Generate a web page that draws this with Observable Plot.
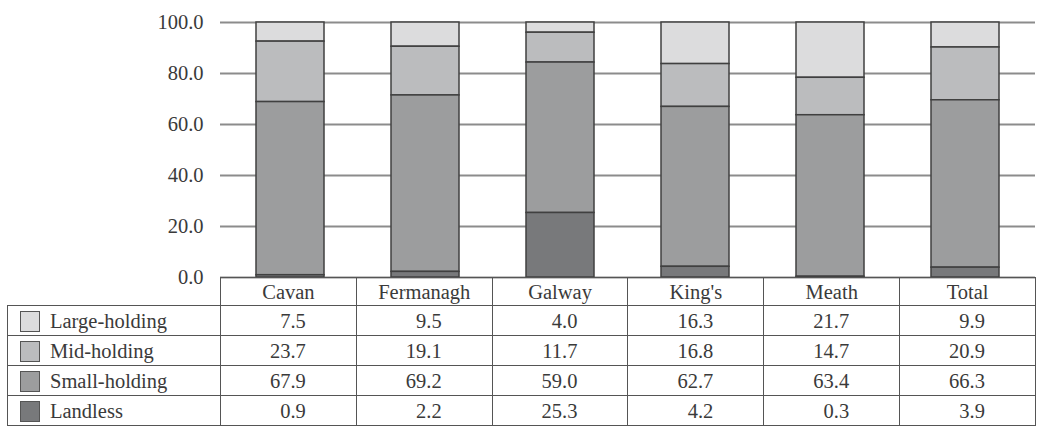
<!DOCTYPE html>
<html>
<head>
<meta charset="utf-8">
<script src="https://cdn.jsdelivr.net/npm/d3@7"></script>
<script src="https://cdn.jsdelivr.net/npm/@observablehq/plot@0.6"></script>
<style>
  html, body { margin: 0; padding: 0; background: #fff; }
  #wrap { position: relative; width: 1042px; height: 427px; overflow: hidden; }
  #chart svg { overflow: visible; }
  #tbl { position: absolute; left: 7px; top: 277px; border-collapse: collapse; table-layout: fixed; width: 1028px;
         font-family: "Liberation Serif", "Times New Roman", serif; font-size: 20.5px; color: #3a3a3a; }
  #tbl td, #tbl th { border: 1.5px solid #555; padding: 0; font-weight: normal; white-space: nowrap; line-height: 22px; }
  #tbl th { height: 27px; text-align: center; }
  #tbl td { height: 29px; text-align: right; padding-right: 50px; }
  #tbl td.lab { text-align: left; padding-right: 0; }
  #tbl th.blank { border-top: none; border-left: none; }
  .sw { display: inline-block; width: 18px; height: 19px; border: 1.5px solid #555; margin-left: 12px; margin-right: 10px; vertical-align: -4px; }
</style>
</head>
<body>
<div id="wrap">
  <div id="chart"></div>
  <table id="tbl"></table>
</div>
<script>
const categories = ["Cavan", "Fermanagh", "Galway", "King's", "Meath", "Total"];
const series = ["Large-holding", "Mid-holding", "Small-holding", "Landless"];
const largeHolding = [7.5, 9.5, 4.0, 16.3, 21.7, 9.9];
const midHolding = [23.7, 19.1, 11.7, 16.8, 14.7, 20.9];
const smallHolding = [67.9, 69.2, 59.0, 62.7, 63.4, 66.3];
const landless = [0.9, 2.2, 25.3, 4.2, 0.3, 3.9];
const yTicks = [0, 20, 40, 60, 80, 100];
const colors = ["#dcdcdd", "#bbbcbe", "#9c9d9e", "#78797b"];

const valuesBySeries = [largeHolding, midHolding, smallHolding, landless];
const rows = [];
series.forEach((s, i) => categories.forEach((c, j) => rows.push({series: s, category: c, value: valuesBySeries[i][j]})));

const chart = Plot.plot({
  width: 1042,
  height: 290,
  marginLeft: 220,
  marginRight: 7,
  marginTop: 22,
  marginBottom: 13,
  style: {fontFamily: "'Liberation Serif', 'Times New Roman', serif", fontSize: "20.5px", color: "#3a3a3a", background: "transparent"},
  x: {domain: categories, paddingInner: 0.5, paddingOuter: 0.25, axis: null},
  y: {percent: true, domain: [0, 100], ticks: yTicks, tickFormat: d3.format(".1f"), tickSize: 0, tickPadding: 17, label: null},
  color: {domain: series, range: colors},
  marks: [
    Plot.ruleY(yTicks, {y: d => d / 100, stroke: "#8c8c8c", strokeWidth: 1.8}),
    Plot.barY(rows, {
      x: "category", y: "value", fill: "series", z: "series",
      offset: "normalize",
      order: ["Landless", "Small-holding", "Mid-holding", "Large-holding"],
      stroke: "#404040", strokeWidth: 1.5
    })
  ]
});
document.getElementById("chart").appendChild(chart);

// data table below the chart
const tbl = document.getElementById("tbl");
const colgroup = document.createElement("colgroup");
const c0 = document.createElement("col"); c0.style.width = "213px"; colgroup.appendChild(c0);
categories.forEach(() => { const c = document.createElement("col"); c.style.width = (815 / 6) + "px"; colgroup.appendChild(c); });
tbl.appendChild(colgroup);
const head = document.createElement("tr");
const blank = document.createElement("th"); blank.className = "blank"; head.appendChild(blank);
categories.forEach(c => { const th = document.createElement("th"); th.textContent = c; head.appendChild(th); });
tbl.appendChild(head);
series.forEach((s, i) => {
  const tr = document.createElement("tr");
  const lab = document.createElement("td"); lab.className = "lab";
  const sw = document.createElement("span"); sw.className = "sw"; sw.style.background = colors[i];
  lab.appendChild(sw); lab.appendChild(document.createTextNode(s));
  tr.appendChild(lab);
  valuesBySeries[i].forEach(v => { const td = document.createElement("td"); td.textContent = v.toFixed(1); tr.appendChild(td); });
  tbl.appendChild(tr);
});
</script>
</body>
</html>
